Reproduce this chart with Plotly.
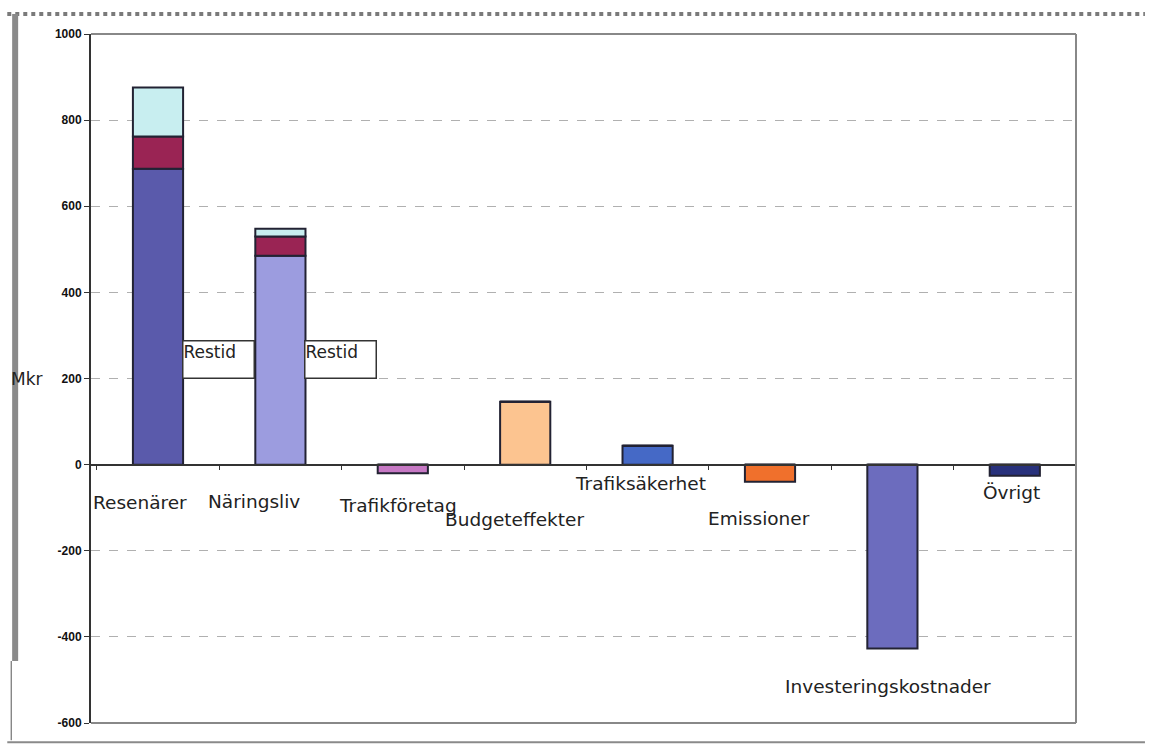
import plotly.graph_objects as go

categories = ["Resenärer", "Näringsliv", "Trafikföretag", "Budgeteffekter",
              "Trafiksäkerhet", "Emissioner", "Investeringskostnader", "Övrigt"]
base_values = [687, 485, -20, 146, 44, -40, -427, -26]
base_colors = ["#5a5aab", "#9c9cdf", "#c678c4", "#fcc490",
               "#4569c6", "#f0702c", "#6c6cbe", "#28317c"]
mid_values = [75, 45, 0, 0, 0, 0, 0, 0]
top_values = [114, 18, 0, 0, 0, 0, 0, 0]

tick_vals = [-600, -400, -200, 0, 200, 400, 600, 800, 1000]
tick_text = ["-600", "-400", "-200", "0", "200", "400", "600", "800", "1000"]

# label positions (data units) and pixel shifts
label_y = [-88, -86, -95, -128, -44, -125, -516, -65]
label_xshift = [-16, -24, -3, -9, -5, -9, -2, -1]

restid_cats = ["Resenärer", "Näringsliv"]

FONT = "DejaVu Sans, Verdana, sans-serif"

fig = go.Figure()
fig.add_trace(go.Bar(x=categories, y=base_values, marker=dict(color=base_colors,
                     line=dict(color="#222233", width=2)), width=0.41, showlegend=False))
fig.add_trace(go.Bar(x=categories, y=mid_values, marker=dict(color="#9a2454",
                     line=dict(color="#222233", width=2)), width=0.41, showlegend=False))
fig.add_trace(go.Bar(x=categories, y=top_values, marker=dict(color="#c8eef0",
                     line=dict(color="#222233", width=2)), width=0.41, showlegend=False))

annotations = []
for c, ly, xs in zip(categories, label_y, label_xshift):
    annotations.append(dict(x=c, y=ly, text=c, showarrow=False, xshift=xs - 2,
                            font=dict(family=FONT, size=18.5, color="#222")))
for c in restid_cats:
    annotations.append(dict(x=c, y=200, text="Restid", showarrow=False, xref="x", yref="y",
                            xanchor="left", yanchor="bottom", xshift=24, yshift=0,
                            width=70, height=36, align="left", valign="top",
                            bgcolor="white", bordercolor="#333", borderwidth=1.5, borderpad=0,
                            font=dict(family=FONT, size=17, color="#222")))
annotations.append(dict(x=-0.083, xref="paper", xanchor="left", y=200, yref="y", text="Mkr",
                        showarrow=False, font=dict(family=FONT, size=17, color="#222")))

fig.update_layout(
    width=1149, height=746,
    margin=dict(l=91, r=73, t=34, b=23),
    paper_bgcolor="white", plot_bgcolor="white",
    barmode="relative", bargap=0.59,
    annotations=annotations,
    xaxis=dict(showticklabels=False, anchor="free", position=0.375,
               showline=True, linecolor="#333", linewidth=2,
               ticks="outside", ticklen=4, tickcolor="#333", tickson="boundaries",
               showgrid=False, zeroline=False),
    yaxis=dict(range=[-600, 1000], tickvals=tick_vals, ticktext=tick_text,
               showline=True, linecolor="#333", linewidth=2,
               ticks="outside", ticklen=5, tickcolor="#333",
               showgrid=True, gridcolor="#b0b0b0", griddash="dash", gridwidth=1,
               zeroline=False,
               tickfont=dict(family="Liberation Sans, Arial", size=12, color="#111", weight="bold")),
    shapes=[
        dict(type="line", xref="paper", yref="paper", x0=0, x1=1, y0=1, y1=1,
             line=dict(color="#888", width=2)),
        dict(type="line", xref="paper", yref="paper", x0=1, x1=1, y0=0, y1=1,
             line=dict(color="#888", width=2)),
        dict(type="line", xref="paper", yref="paper", x0=0, x1=1, y0=0, y1=0,
             line=dict(color="#888", width=2)),
        # outer image frame
        dict(type="line", xref="paper", yref="paper", x0=-0.085, x1=1.07, y0=1.029, y1=1.029,
             line=dict(color="#7a7a7a", width=4, dash="dot")),
        dict(type="line", xref="paper", yref="paper", x0=-0.077, x1=-0.077, y0=0.09, y1=1.029,
             line=dict(color="#8a8a8a", width=6)),
        dict(type="line", xref="paper", yref="paper", x0=-0.081, x1=-0.081, y0=-0.025, y1=0.09,
             line=dict(color="#555", width=1)),
        dict(type="line", xref="paper", yref="paper", x0=-0.085, x1=1.07, y0=-0.028, y1=-0.028,
             line=dict(color="#8a8a8a", width=2)),
    ],
)

fig.write_html("out.html")
